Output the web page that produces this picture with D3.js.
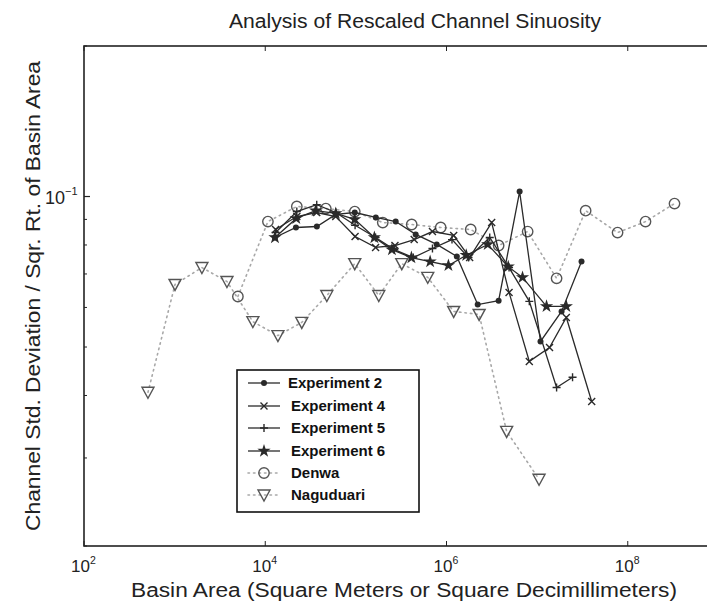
<!DOCTYPE html>
<html>
<head>
<meta charset="utf-8">
<script src="https://cdn.jsdelivr.net/npm/d3@7"></script>
<style>
  body { margin: 0; background: #fff; }
  svg { display: block; font-family: "Liberation Sans", Arial, Helvetica, sans-serif; }
</style>
</head>
<body>
<svg id="chart" width="707" height="603"></svg>
<script>
// Basin area (x) and rescaled sinuosity (y) for each data set
const exp2Area = [12800, 21800, 37100, 60000, 97200, 166000, 275000, 457000, 780000, 1300000, 2210000, 3760000, 6410000, 10900000, 18600000, 30900000];
const exp2Val  = [0.0828, 0.0867, 0.0871, 0.0921, 0.0929, 0.0908, 0.0891, 0.0840, 0.0802, 0.0759, 0.0608, 0.0619, 0.1023, 0.0513, 0.0589, 0.0741];

const exp4Area = [13000, 22300, 37000, 60000, 98000, 165000, 270000, 440000, 700000, 1200000, 1800000, 3150000, 4900000, 8200000, 13700000, 21000000, 40000000];
const exp4Val  = [0.0859, 0.0912, 0.0929, 0.0912, 0.0832, 0.0791, 0.0798, 0.0820, 0.0851, 0.0836, 0.0755, 0.0887, 0.0643, 0.0468, 0.0499, 0.0573, 0.0389];

const exp5Area = [13000, 22300, 37000, 60000, 98000, 165000, 265000, 430000, 700000, 1150000, 1750000, 3000000, 4900000, 8200000, 16400000, 24600000];
const exp5Val  = [0.0847, 0.0933, 0.0963, 0.0929, 0.0876, 0.0828, 0.0783, 0.0755, 0.0787, 0.0820, 0.0755, 0.0828, 0.0721, 0.0617, 0.0415, 0.0435];

const exp6Area = [12800, 22000, 36000, 60000, 97000, 160000, 250000, 410000, 660000, 1050000, 1650000, 2850000, 4800000, 6900000, 12700000, 21000000];
const exp6Val  = [0.0828, 0.0904, 0.0937, 0.0925, 0.0900, 0.0828, 0.0783, 0.0755, 0.0741, 0.0728, 0.0763, 0.0802, 0.0724, 0.0689, 0.0603, 0.0603];

const denwaArea = [4990, 10700, 22300, 46600, 97200, 198000, 413000, 863000, 1850000, 3760000, 7860000, 16400000, 34300000, 77200000, 157000000, 328000000];
const denwaVal  = [0.0631, 0.0891, 0.0955, 0.0946, 0.0933, 0.0887, 0.0879, 0.0867, 0.0859, 0.0798, 0.0851, 0.0686, 0.0937, 0.0847, 0.0891, 0.0968];

const naguArea = [508, 1010, 2000, 3780, 7300, 13800, 25300, 47800, 97200, 179000, 321000, 621000, 1200000, 2290000, 4610000, 10500000];
const naguVal  = [0.0406, 0.0667, 0.0721, 0.0676, 0.0562, 0.0527, 0.0560, 0.0634, 0.0734, 0.0634, 0.0734, 0.0689, 0.0589, 0.0581, 0.0339, 0.0272];

const xTickExps = [2, 4, 6, 8];
const yTickExps = [-1];
const yMinorTicks = [0.02, 0.03, 0.04, 0.05, 0.06, 0.07, 0.08, 0.09, 0.2];

const titleText = "Analysis of Rescaled Channel Sinuosity";
const xLabelText = "Basin Area (Square Meters or Square Decimillimeters)";
const yLabelText = "Channel Std. Deviation / Sqr. Rt. of Basin Area";

const seriesNames = ["Experiment 2", "Experiment 4", "Experiment 5", "Experiment 6", "Denwa", "Naguduari"];

const svg = d3.select("#chart");
const x = d3.scaleLog().domain([1e2, 1e10]).range([84, 809]);
const y = d3.scaleLog().domain([0.02, 0.2]).range([546, 46]);

const axisColor = "#222";
const lineColor = "#2a2a2a";
const dotColor = "#a8a8a8";

// plot frame
svg.append("rect")
  .attr("x", x(1e2)).attr("y", y(0.2))
  .attr("width", x(1e10) - x(1e2)).attr("height", y(0.02) - y(0.2))
  .attr("fill", "none").attr("stroke", axisColor).attr("stroke-width", 1.6);

// ticks (inward, on both sides)
const xt = xTickExps.map(e => Math.pow(10, e));
xt.forEach(v => {
  svg.append("line").attr("x1", x(v)).attr("x2", x(v)).attr("y1", y(0.02)).attr("y2", y(0.02) - 5)
    .attr("stroke", axisColor).attr("stroke-width", 1);
  svg.append("line").attr("x1", x(v)).attr("x2", x(v)).attr("y1", y(0.2)).attr("y2", y(0.2) + 5)
    .attr("stroke", axisColor).attr("stroke-width", 1);
});
yTickExps.map(e => Math.pow(10, e)).forEach(v => {
  svg.append("line").attr("x1", x(1e2)).attr("x2", x(1e2) + 6).attr("y1", y(v)).attr("y2", y(v))
    .attr("stroke", axisColor).attr("stroke-width", 1.2);
});
yMinorTicks.forEach(v => {
  svg.append("line").attr("x1", x(1e2)).attr("x2", x(1e2) + 3).attr("y1", y(v)).attr("y2", y(v))
    .attr("stroke", axisColor).attr("stroke-width", 1);
});

// tick labels with superscript exponents
xTickExps.forEach(e => {
  const t = svg.append("text").attr("x", x(Math.pow(10, e)) - 13).attr("y", 572)
    .attr("font-size", 17).attr("fill", "#222");
  t.append("tspan").text("10");
  t.append("tspan").attr("dy", -8).attr("font-size", 10.5).text(String(e));
});
yTickExps.forEach(e => {
  const t = svg.append("text").attr("x", 45).attr("y", y(Math.pow(10, e)) + 7)
    .attr("font-size", 18).attr("fill", "#222");
  t.append("tspan").text("10");
  t.append("tspan").attr("dy", -9).attr("font-size", 11).text("\u2212" + Math.abs(e));
});

// title and axis labels
svg.append("text").attr("x", 415).attr("y", 28).attr("text-anchor", "middle")
  .attr("font-size", 20).attr("textLength", 372).attr("lengthAdjust", "spacingAndGlyphs")
  .attr("fill", "#222").text(titleText);
svg.append("text").attr("x", 404).attr("y", 597).attr("text-anchor", "middle")
  .attr("font-size", 20).attr("textLength", 546).attr("lengthAdjust", "spacingAndGlyphs")
  .attr("fill", "#222").text(xLabelText);
svg.append("text").attr("transform", "translate(40,296) rotate(-90)").attr("text-anchor", "middle")
  .attr("font-size", 20).attr("textLength", 470).attr("lengthAdjust", "spacingAndGlyphs")
  .attr("fill", "#222").text(yLabelText);

// marker shapes
const starPath = d3.symbol().type(d3.symbolStar).size(55)();
const triPath = "M-6,-5 L6,-5 L0,6 Z";
function drawMarker(g, type, cx, cy) {
  if (type === "dot") {
    g.append("circle").attr("cx", cx).attr("cy", cy).attr("r", 3).attr("fill", lineColor);
  } else if (type === "x") {
    g.append("path").attr("d", `M${cx-3.5},${cy-3.5}L${cx+3.5},${cy+3.5}M${cx-3.5},${cy+3.5}L${cx+3.5},${cy-3.5}`)
      .attr("stroke", lineColor).attr("stroke-width", 1.4);
  } else if (type === "plus") {
    g.append("path").attr("d", `M${cx-4},${cy}L${cx+4},${cy}M${cx},${cy-4}L${cx},${cy+4}`)
      .attr("stroke", lineColor).attr("stroke-width", 1.4);
  } else if (type === "star") {
    g.append("path").attr("d", starPath).attr("transform", `translate(${cx},${cy})`).attr("fill", lineColor);
  } else if (type === "circle") {
    g.append("circle").attr("cx", cx).attr("cy", cy).attr("r", 5.2).attr("fill", "none")
      .attr("stroke", "#555").attr("stroke-width", 1.4);
  } else if (type === "tri") {
    g.append("path").attr("d", triPath).attr("transform", `translate(${cx},${cy})`).attr("fill", "none")
      .attr("stroke", "#555").attr("stroke-width", 1.4);
  }
}

const series = [
  { name: seriesNames[0], xs: exp2Area, ys: exp2Val, marker: "dot", dotted: false },
  { name: seriesNames[1], xs: exp4Area, ys: exp4Val, marker: "x", dotted: false },
  { name: seriesNames[2], xs: exp5Area, ys: exp5Val, marker: "plus", dotted: false },
  { name: seriesNames[3], xs: exp6Area, ys: exp6Val, marker: "star", dotted: false },
  { name: seriesNames[4], xs: denwaArea, ys: denwaVal, marker: "circle", dotted: true },
  { name: seriesNames[5], xs: naguArea, ys: naguVal, marker: "tri", dotted: true }
];

const line = d3.line().x(d => x(d[0])).y(d => y(d[1]));
const plot = svg.append("g");
// dotted field series drawn under the experiment lines
[...series].reverse().forEach(s => {
  const pts = s.xs.map((v, i) => [v, s.ys[i]]);
  const g = plot.append("g");
  g.append("path").attr("d", line(pts)).attr("fill", "none")
    .attr("stroke", s.dotted ? dotColor : lineColor)
    .attr("stroke-width", s.dotted ? 1.6 : 1.3)
    .attr("stroke-dasharray", s.dotted ? "1.5,4" : null)
    .attr("stroke-linecap", s.dotted ? "round" : "butt");
  pts.forEach(p => drawMarker(g, s.marker, x(p[0]), y(p[1])));
});

// legend
const lg = svg.append("g");
lg.append("rect").attr("x", 237).attr("y", 370).attr("width", 182).attr("height", 142)
  .attr("fill", "#fff").attr("stroke", "#111").attr("stroke-width", 1.6);
const rowY = [383, 406, 428, 451, 473, 495];
series.forEach((s, i) => {
  const ry = rowY[i];
  lg.append("line").attr("x1", 248).attr("x2", 280).attr("y1", ry).attr("y2", ry)
    .attr("stroke", s.dotted ? dotColor : lineColor).attr("stroke-width", s.dotted ? 1.6 : 1.3)
    .attr("stroke-dasharray", s.dotted ? "1.5,4" : null).attr("stroke-linecap", s.dotted ? "round" : "butt");
  drawMarker(lg, s.marker, 264, ry);
  lg.append("text").attr("x", i === 0 ? 288 : 291).attr("y", ry + 5).attr("font-size", 15)
    .attr("font-weight", "bold").attr("fill", "#111").text(s.name);
});
</script>
</body>
</html>
